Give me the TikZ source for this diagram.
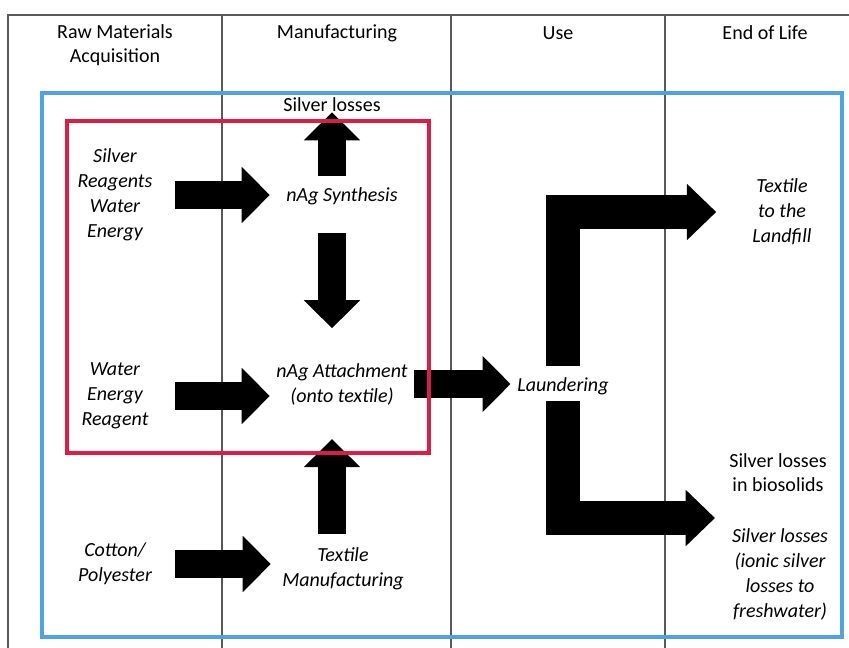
\documentclass[tikz,border=0pt]{standalone}
\usepackage{fontspec}
\setmainfont{Carlito}
\usetikzlibrary{arrows.meta}
\definecolor{Sky}{RGB}{79,163,224}
\definecolor{Crimson}{RGB}{220,30,70}
\begin{document}
\begin{tikzpicture}[x=0.75pt,y=-0.75pt]
	\tikzstyle{Head} = [font=\fontsize{15}{18}\selectfont, align=center, inner sep=0pt]
	\tikzstyle{Label} = [font=\fontsize{15}{18.75}\selectfont\itshape, align=center, inner sep=0pt]
	\tikzstyle{Input} = [Label, minimum width=90pt]
	\tikzstyle{Proc} = [Label, minimum width=108pt, minimum height=30pt]
	\tikzstyle{Fat} = [line width=21pt, -{Triangle[length=21pt,width=41pt]}]
	\tikzstyle{Elbow} = [line width=25pt, line join=miter, -{Triangle[length=22pt,width=41pt]}]
	\tikzstyle{Rule} = [draw=black!65, line width=1pt]

	\useasboundingbox (0,0) rectangle (849,648);

	% phase columns
	\draw [Rule] (8,648) -- (8,15) -- (849,15);
	\foreach \x in {222,451,665}
		\draw [Rule] (\x,15) -- (\x,648);
	\node (hRaw) [Head] at (115,45) {Raw Materials\\Acquisition};
	\node (hMan) [Head] at (337,33) {Manufacturing};
	\node (hUse) [Head] at (558,33) {Use};
	\node (hEnd) [Head] at (765,33) {End of Life};

	\draw [Sky, line width=3pt] (42,93) rectangle (842,637);

	% texts
	\node (loss) [Head] at (332,105) {Silver losses};
	\node (inSyn) [Input] at (115,195) {Silver\\Reagents\\Water\\Energy};
	\node (syn) [Proc] at (342,196) {nAg Synthesis};
	\node (inAtt) [Input] at (115,396) {Water\\Energy\\Reagent};
	\node (att) [Proc] at (342,384) {nAg Attachment\\(onto textile)};
	\node (cotton) [Input] at (115,564) {Cotton/\\Polyester};
	\node (texman) [Proc] at (343,569) {Textile\\Manufacturing};
	\node (launder) [Label] at (563,386) {Laundering};
	\node (landfill) [Label] at (782,212) {Textile\\to the\\Landfill};
	\node (bio) [Head] at (778,473) {Silver losses\\in biosolids};
	\node (fresh) [Label] at (780,574) {Silver losses\\(ionic silver\\losses to\\freshwater)};
	\coordinate (sink) at (715,518);

	% flows
	\draw [Fat] (inSyn.east) -- (inSyn.east -| syn.west);
	\draw [Fat] (syn.north -| loss) -- (loss.south);
	\draw [Fat, shorten <=12.75pt, shorten >=26pt] (syn.south -| loss) -- (att.north -| loss);
	\draw [Fat] (inAtt.east) -- (inAtt.east -| att.west);
	\draw [Fat] (cotton.east) -- (cotton.east -| texman.west);
	\draw [Fat, shorten <=10.5pt, shorten >=25.5pt] (texman.north -| loss) -- (att.south -| loss);
	\draw [Fat, shorten >=5pt] (att.east) -- (att.east -| launder.west);
	\draw [Elbow, shorten <=8pt, shorten >=27pt] (launder.north) |- (landfill.west);
	\draw [Elbow, shorten <=4.5pt] (launder.south) |- (sink);

	\draw [Crimson, line width=2.5pt] (67,121) rectangle (429,453);
\end{tikzpicture}
\end{document}
